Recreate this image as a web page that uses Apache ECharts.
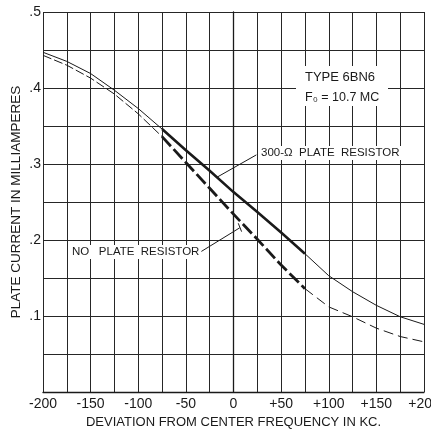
<!DOCTYPE html>
<html>
<head>
<meta charset="utf-8">
<script src="https://cdn.jsdelivr.net/npm/echarts@6/dist/echarts.min.js"></script>
<style>
html,body{margin:0;padding:0;background:#fff;}
#chart{width:431px;height:430px;}
</style>
</head>
<body>
<div id="chart"></div>
<script>
// Deviation from center frequency (kc)
const deviation = [-200,-175,-150,-125,-100,-75,-50,-25,0,25,50,75,100,125,150,175,200];
// Plate current (mA) with 300-ohm plate resistor (solid curve)
const withResistor = [0.447,0.435,0.419,0.397,0.373,0.346,0.318,0.291,0.263,0.237,0.210,0.182,0.153,0.132,0.114,0.099,0.089];
// Plate current (mA) with no plate resistor (dashed curve)
const noResistor = [0.443,0.430,0.413,0.392,0.366,0.336,0.302,0.268,0.234,0.201,0.167,0.136,0.112,0.099,0.084,0.073,0.066];
// Tick labels
const xTickLabels = {"-200":"-200","-150":"-150","-100":"-100","-50":"-50","0":"0","50":"+50","100":"+100","150":"+150","200":"+200"};
const yTickLabels = {"0.1":".1","0.2":".2","0.3":".3","0.4":".4","0.5":".5"};
// Bold section range
const boldFrom = -75, boldTo = 75;

const INK = '#1a1a1a';
const FONT = 'Liberation Sans';

function pairs(ys, lo, hi) {
  const out = [];
  deviation.forEach((x, i) => { if (x >= lo && x <= hi) out.push([x, ys[i]]); });
  return out;
}

function seg(name, ys, lo, hi, width, type) {
  return {
    name: name, type: 'line', smooth: false, symbol: 'none',
    data: pairs(ys, lo, hi),
    lineStyle: {color: INK, width: width, type: type, join: 'round'},
    z: 5, silent: true
  };
}

const chart = echarts.init(document.getElementById('chart'), null, {renderer: 'canvas'});

const textBox = {backgroundColor: '#fff', padding: [1, 2]};

const option = {
  animation: false,
  backgroundColor: '#fff',
  grid: {left: 43, right: 7, top: 12, bottom: 38, containLabel: false, outerBoundsMode: 'none'},
  xAxis: {
    type: 'value', min: -200, max: 200, interval: 25,
    name: 'DEVIATION FROM CENTER FREQUENCY IN KC.',
    nameLocation: 'middle', nameGap: 22,
    nameTextStyle: {color: INK, fontSize: 13, fontFamily: FONT},
    axisLine: {show: true, lineStyle: {color: INK, width: 1.3}},
    axisTick: {show: false},
    axisLabel: {
      color: INK, fontSize: 14, fontFamily: FONT, margin: 5,
      formatter: v => xTickLabels[String(v)] || ''
    },
    splitLine: {show: true, lineStyle: {color: '#262626', width: 1}}
  },
  yAxis: {
    type: 'value', min: 0, max: 0.5, interval: 0.05,
    name: 'PLATE CURRENT IN MILLIAMPERES',
    nameLocation: 'middle', nameGap: 20, nameMoveOverlap: false,
    nameTextStyle: {color: INK, fontSize: 13.5, fontFamily: FONT},
    axisLine: {show: true, lineStyle: {color: INK, width: 1.3}},
    axisTick: {show: false},
    axisLabel: {
      color: INK, fontSize: 14, fontFamily: FONT, margin: 2,
      formatter: v => yTickLabels[String(Math.round(v * 100) / 100)] || ''
    },
    splitLine: {show: true, lineStyle: {color: '#262626', width: 1}}
  },
  series: [
    seg('300 left', withResistor, -200, boldFrom, 1, 'solid'),
    seg('300 bold', withResistor, boldFrom, boldTo, 2.6, 'solid'),
    seg('300 right', withResistor, boldTo, 200, 1, 'solid'),
    seg('no left', noResistor, -200, boldFrom, 1, [9, 3]),
    seg('no bold', noResistor, boldFrom, boldTo, 2.8, [13, 4]),
    seg('no right', noResistor, boldTo, 200, 1, [10, 5]),
    {
      name: 'leaders', type: 'line', data: [], symbol: 'none', silent: true,
      markLine: {
        silent: true, symbol: ['none', 'none'], label: {show: false},
        lineStyle: {color: INK, width: 1, type: 'solid'},
        data: [
          [{coord: [24, 0.312]}, {coord: [-17.5, 0.2825]}],
          [{coord: [-35, 0.184]}, {coord: [6.5, 0.216]}],
          [{coord: [5, 0.222]}, {coord: [8.5, 0.211]}]
        ]
      }
    }
  ],
  graphic: [
    {type: 'rect', left: 296, top: 66, shape: {width: 92, height: 40}, style: {fill: '#fff'}, z: 10},
    {type: 'text', left: 305, top: 71, z: 11, style: {text: 'TYPE 6BN6', fill: INK, font: '13px "Liberation Sans"'}},
    {type: 'text', left: 305, top: 91, z: 11, style: {text: 'F\u2080 = 10.7 MC', fill: INK, font: '12.5px "Liberation Sans"'}},
    {type: 'text', left: 259, top: 146, z: 11, style: Object.assign({text: '300-\u03A9  PLATE  RESISTOR', fill: INK, font: '11.5px "Liberation Sans"'}, textBox)},
    {type: 'text', left: 70, top: 245, z: 11, style: Object.assign({text: 'NO   PLATE  RESISTOR', fill: INK, font: '11.5px "Liberation Sans"'}, textBox)}
  ]
};
chart.setOption(option);
</script>
</body>
</html>
